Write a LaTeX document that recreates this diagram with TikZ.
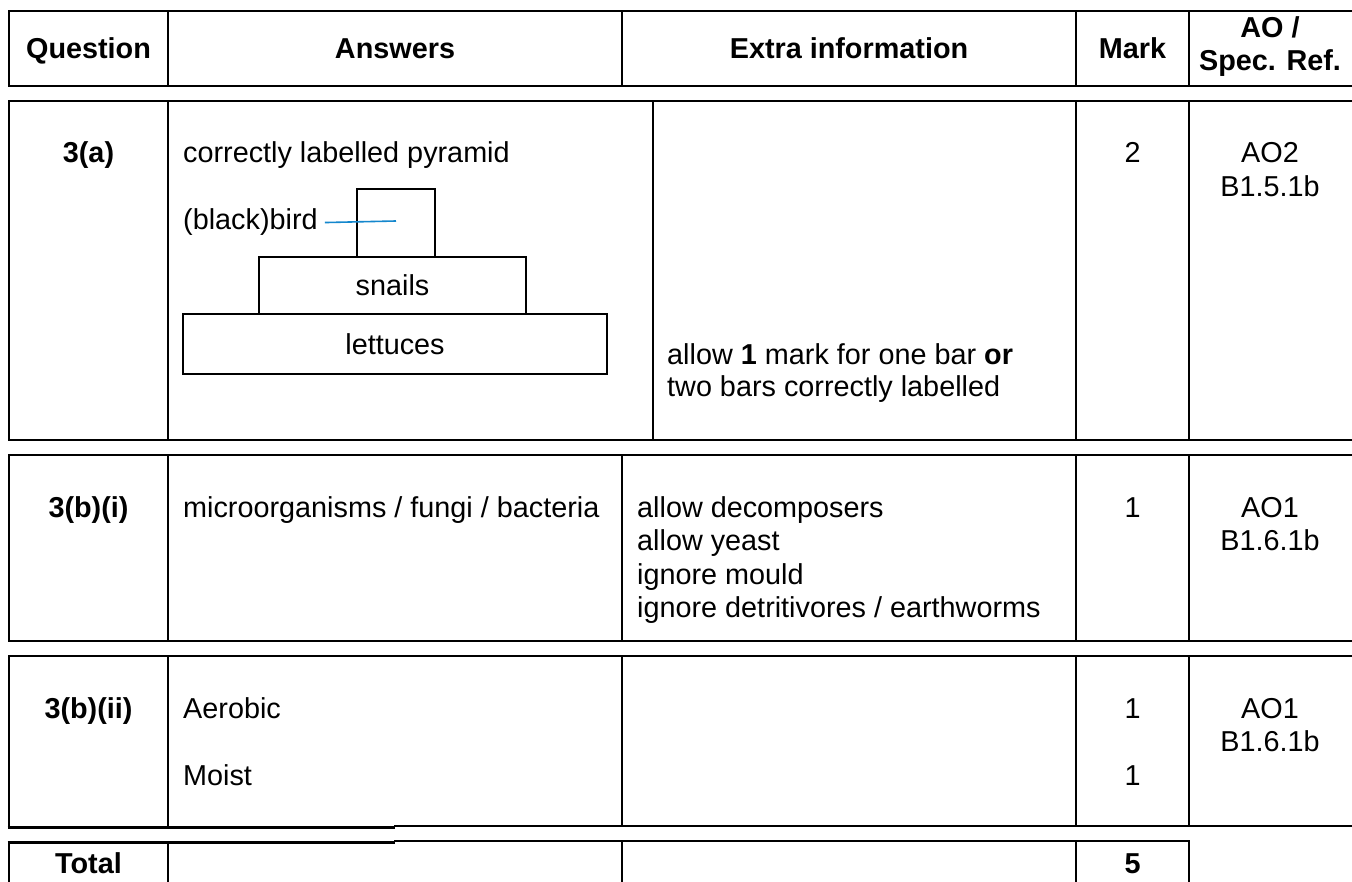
\documentclass[tikz,border=0pt]{standalone}
\usepackage{fontspec}
\setmainfont{Liberation Sans}
\definecolor{leaderblue}{RGB}{20,135,205}
\begin{document}
\begin{tikzpicture}[x=1pt,y=-1pt,
  txt/.style={inner sep=0pt,anchor=base west,font=\fontsize{28.8}{33.5}\selectfont},
  ctr/.style={inner sep=0pt,anchor=base,font=\fontsize{28.8}{33.5}\selectfont},
  hdr/.style={inner sep=0pt,anchor=base,font=\fontsize{28.8}{33.5}\selectfont\bfseries},
  tab/.style={line width=1.7pt,line cap=rect},
  tabthick/.style={line width=3pt},
  bar/.style={draw,line width=1.6pt,inner sep=0pt,font=\fontsize{28.8}{33.5}\selectfont},
  leader/.style={draw=leaderblue,line width=1.6pt}]
\useasboundingbox (0,0) rectangle (1352,882);
\clip (0,0) rectangle (1352,882);
\fill[white] (0,0) rectangle (1352,882);
% ---------- header ----------
\draw[tab] (1360,11) -- (9,11) -- (9,86) -- (1360,86);
\foreach \x in {168,622,1076,1189} \draw[tab] (\x,11) -- (\x,86);
\node[hdr] (hq) at (88.5,59) {Question};
\node[hdr] (ha) at (395,59) {Answers};
\node[hdr] (he) at (849,59) {Extra information};
\node[hdr] (hm) at (1132.5,59) {Mark};
\node[hdr] (hao) at (1270,38) {AO /};
\node[hdr] (hsr) at (1270,71) {Spec. Ref.};
% ---------- row 3(a) ----------
\draw[tab] (1360,101) -- (9,101) -- (9,440) -- (1360,440);
\foreach \x in {168,653,1076,1189} \draw[tab] (\x,101) -- (\x,440);
\node[hdr] (q1) at (88.5,163) {3(a)};
\node[txt] (a1) at (183,163) {correctly labelled pyramid};
\node[bar,minimum width=78pt,minimum height=68pt] (birdbox) at (396,223) {};
\node[bar,minimum width=267pt,minimum height=57pt] (snails) at (392.5,285.5) {snails};
\node[bar,minimum width=424pt,minimum height=60pt] (lettuces) at (395,344) {lettuces};
\node[txt] (bird) at (183,230) {(black)bird};
\draw[leader] ([xshift=7pt]bird.east) -- ([yshift=2pt]birdbox.center);
\node[txt] (e1a) at (667,365) {allow \textbf{1} mark for one bar \textbf{or}};
\node[txt] (e1b) at (667,397) {two bars correctly labelled};
\node[ctr] (m1) at (1132.5,163) {2};
\node[ctr] (ao1) at (1270,163) {AO2};
\node[ctr] (sp1) at (1270,197) {B1.5.1b};
% ---------- row 3(b)(i) ----------
\draw[tab] (1360,455) -- (9,455) -- (9,641) -- (1360,641);
\foreach \x in {168,622,1076,1189} \draw[tab] (\x,455) -- (\x,641);
\node[hdr] (q2) at (88.5,517) {3(b)(i)};
\node[txt] (a2) at (183,517) {microorganisms / fungi / bacteria};
\node[txt] (e2a) at (637,517) {allow decomposers};
\node[txt] (e2b) at (637,550.5) {allow yeast};
\node[txt] (e2c) at (637,584) {ignore mould};
\node[txt] (e2d) at (637,617.5) {ignore detritivores / earthworms};
\node[ctr] (m2) at (1132.5,517) {1};
\node[ctr] (ao2) at (1270,517) {AO1};
\node[ctr] (sp2) at (1270,550.5) {B1.6.1b};
% ---------- row 3(b)(ii) ----------
\draw[tab] (1360,656) -- (9,656) -- (9,826);
\foreach \x in {168,622,1076,1189} \draw[tab] (\x,656) -- (\x,826);
\draw[tabthick] (7.5,827.3) -- (395,827.3);
\draw[tab] (395,825.7) -- (1360,825.7);
\node[hdr] (q3) at (88.5,718) {3(b)(ii)};
\node[txt] (a3a) at (183,718) {Aerobic};
\node[txt] (a3b) at (183,785) {Moist};
\node[ctr] (m3a) at (1132.5,718) {1};
\node[ctr] (m3b) at (1132.5,785) {1};
\node[ctr] (ao3) at (1270,718) {AO1};
\node[ctr] (sp3) at (1270,751.5) {B1.6.1b};
% ---------- total ----------
\draw[tabthick] (7.5,842.7) -- (395,842.7);
\draw[tab] (395,841) -- (1189,841);
\foreach \x in {9,168,622,1076,1189} \draw[tab] (\x,842) -- (\x,895);
\node[hdr] (qt) at (88.5,873) {Total};
\node[hdr] (mt) at (1132.5,873) {5};
\end{tikzpicture}
\end{document}
